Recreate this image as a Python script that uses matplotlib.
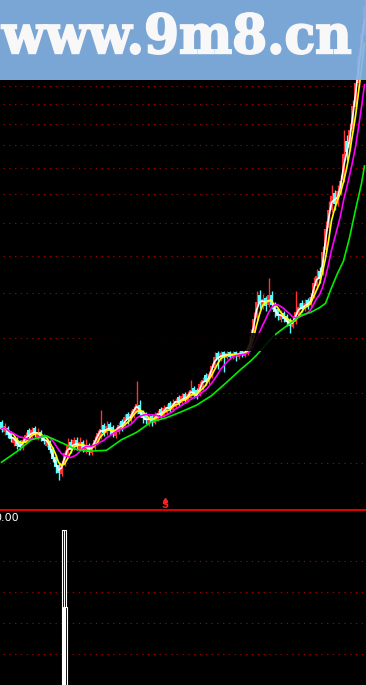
import numpy as np
import pandas as pd
import matplotlib
matplotlib.use('Agg')
import matplotlib.pyplot as plt
from matplotlib.patches import Rectangle, PathPatch
from matplotlib.textpath import TextPath
from matplotlib.font_manager import FontProperties
from matplotlib.transforms import Affine2D

plt.rcParams['font.family'] = ['DejaVu Sans']

# daily candles (price)
opens = [3.55, 3.40, 3.46, 3.40, 3.25, 3.31, 3.28, 3.19, 3.26, 3.43,
         3.34, 3.46, 3.32, 3.41, 3.36, 3.22, 3.28, 3.18, 3.08, 2.98,
         2.87, 2.98, 3.08, 3.27, 3.19, 3.30, 3.17, 3.27, 3.14, 3.23,
         3.12, 3.19, 3.27, 3.34, 3.50, 3.39, 3.52, 3.47, 3.35, 3.40,
         3.56, 3.50, 3.67, 3.56, 3.63, 3.69, 3.80, 3.70, 3.66, 3.52,
         3.64, 3.54, 3.58, 3.74, 3.64, 3.68, 3.83, 3.73, 3.77, 3.93,
         3.83, 3.98, 3.87, 3.92, 4.07, 4.05, 3.97, 4.08, 4.29, 4.18,
         4.28, 4.43, 4.71, 4.60, 4.72, 4.61, 4.72, 4.61, 4.73, 4.62,
         4.74, 4.65, 4.70, 4.80, 5.08, 5.42, 5.97, 5.68, 5.88, 5.72,
         5.95, 5.74, 5.62, 5.38, 5.54, 5.48, 5.38, 5.24, 5.34, 5.50,
         5.78, 5.62, 5.84, 5.72, 5.92, 6.18, 6.58, 6.52, 7.15, 7.85,
         8.45, 9.05, 8.65, 9.05, 9.55, 11.20, 10.85, 11.75, 12.85, 14.15,
         15.75, 17.35]
closes = [3.45, 3.49, 3.36, 3.31, 3.33, 3.22, 3.20, 3.29, 3.36, 3.34,
          3.43, 3.37, 3.41, 3.32, 3.28, 3.30, 3.16, 3.05, 2.95, 2.88,
          3.00, 3.12, 3.21, 3.17, 3.29, 3.20, 3.27, 3.18, 3.23, 3.14,
          3.22, 3.30, 3.39, 3.45, 3.39, 3.49, 3.42, 3.38, 3.44, 3.50,
          3.47, 3.62, 3.57, 3.67, 3.74, 3.82, 3.66, 3.60, 3.57, 3.61,
          3.55, 3.64, 3.68, 3.65, 3.75, 3.77, 3.74, 3.84, 3.87, 3.83,
          3.94, 3.88, 3.98, 4.04, 3.96, 3.95, 4.14, 4.21, 4.17, 4.31,
          4.46, 4.62, 4.58, 4.70, 4.62, 4.71, 4.63, 4.71, 4.64, 4.71,
          4.67, 4.74, 4.80, 5.05, 5.40, 5.80, 5.78, 5.86, 5.70, 5.95,
          5.72, 5.55, 5.46, 5.52, 5.40, 5.34, 5.25, 5.38, 5.55, 5.68,
          5.62, 5.78, 5.70, 5.92, 6.25, 6.44, 6.36, 7.10, 7.80, 8.45,
          8.95, 8.65, 9.10, 9.50, 10.60, 10.70, 11.70, 12.90, 14.20, 15.80,
          17.40, 19.30]
highs = [3.58, 3.54, 3.49, 3.42, 3.37, 3.34, 3.30, 3.33, 3.41, 3.46,
         3.48, 3.49, 3.46, 3.44, 3.38, 3.34, 3.30, 3.20, 3.10, 3.01,
         3.04, 3.16, 3.32, 3.31, 3.33, 3.33, 3.34, 3.30, 3.31, 3.26,
         3.26, 3.35, 3.43, 3.72, 3.54, 3.56, 3.55, 3.50, 3.48, 3.55,
         3.59, 3.67, 3.70, 3.72, 3.79, 4.19, 3.88, 3.73, 3.69, 3.66,
         3.67, 3.69, 3.73, 3.77, 3.80, 3.82, 3.86, 3.89, 3.92, 3.96,
         3.99, 4.01, 4.03, 4.21, 4.11, 4.08, 4.19, 4.27, 4.33, 4.37,
         4.52, 4.72, 4.74, 4.74, 4.74, 4.75, 4.75, 4.75, 4.75, 4.75,
         4.76, 4.78, 4.86, 5.18, 5.55, 6.05, 6.08, 5.98, 5.94, 6.38,
         6.05, 5.80, 5.66, 5.60, 5.58, 5.52, 5.42, 5.44, 6.05, 5.78,
         5.84, 5.86, 5.88, 6.02, 6.42, 6.62, 6.68, 7.28, 8.05, 8.75,
         9.35, 9.15, 9.35, 9.75, 11.70, 11.45, 12.05, 13.25, 14.65, 16.35,
         18.05, 20.50]
lows = [3.40, 3.37, 3.32, 3.27, 3.22, 3.18, 3.16, 3.17, 3.24, 3.30,
        3.31, 3.33, 3.30, 3.28, 3.24, 3.20, 3.12, 3.01, 2.88, 2.80,
        2.84, 2.96, 3.06, 3.13, 3.16, 3.16, 3.15, 3.14, 3.12, 3.10,
        3.10, 3.17, 3.25, 3.31, 3.35, 3.36, 3.37, 3.33, 3.32, 3.38,
        3.42, 3.47, 3.52, 3.53, 3.60, 3.66, 3.62, 3.54, 3.52, 3.49,
        3.49, 3.52, 3.56, 3.61, 3.62, 3.66, 3.70, 3.71, 3.75, 3.79,
        3.80, 3.84, 3.85, 3.90, 3.92, 3.90, 3.94, 4.05, 4.12, 4.15,
        4.25, 4.40, 4.40, 4.56, 4.35, 4.58, 4.58, 4.58, 4.56, 4.59,
        4.62, 4.62, 4.67, 4.76, 5.02, 5.38, 5.62, 5.62, 5.58, 5.68,
        5.62, 5.45, 5.38, 5.34, 5.33, 5.26, 5.10, 5.20, 5.30, 5.46,
        5.56, 5.58, 5.64, 5.68, 5.88, 6.12, 6.26, 6.48, 7.08, 7.78,
        8.38, 8.45, 8.58, 8.98, 9.45, 10.35, 10.75, 11.65, 12.75, 13.95,
        15.55, 17.15]

# long moving average (green)
green_idx = [0, 5, 10, 15, 20, 25, 30, 35, 40, 45, 50, 55, 60, 65, 70, 75,
             80, 83, 85, 88, 91, 95, 100, 103, 106, 108, 110, 112, 114, 116,
             118, 120, 121]
green_val = [3.01, 3.14, 3.30, 3.35, 3.26, 3.17, 3.15, 3.16, 3.30, 3.40,
             3.55, 3.61, 3.70, 3.80, 3.95, 4.17, 4.41, 4.55, 4.66, 4.86,
             5.06, 5.25, 5.49, 5.55, 5.66, 5.76, 6.14, 6.51, 6.85, 7.53,
             8.44, 9.40, 10.1]

grid_prices = [3, 4, 5, 6, 7, 8, 9, 10, 11, 12, 13, 14, 15, 16, 17, 18, 19]

# lower panel signal
sig_pos = [20.83, 21.17]
sig_val = [5.0, 2.52]
lower_grid = [1, 2, 3, 4]

W, H = 366, 685
fig = plt.figure(figsize=(W / 100, H / 100), dpi=100, facecolor='black')

# main price panel
ax = fig.add_axes([0, 175 / H, 1, 510 / H])
ax.set_facecolor('black')
ax.set_yscale('log')
ax.set_xlim(-0.5, len(closes) - 0.5)
ax.set_ylim(2.476, 19.9)
ax.axis('off')

for p in grid_prices:
    ax.axhline(p, xmin=3 / W, color='#a00000', lw=0.8, ls=(0, (1.2, 4)), zorder=1)

idx = np.arange(len(closes))
o = np.array(opens)
c = np.array(closes)
up = c >= o
cols = np.where(up, '#ff3333', '#55ffff')
ax.vlines(idx, lows, highs, colors=cols, lw=1.0, zorder=2)
ax.bar(idx, np.abs(c - o), bottom=np.minimum(o, c), width=0.7, color=cols,
       linewidth=0, zorder=3)

s = pd.Series(closes)
ax.plot(idx, s.rolling(2, min_periods=1).mean(), color='white', lw=1.2, zorder=5)
ax.plot(idx, s.rolling(4, min_periods=1).mean(), color='#ffff00', lw=1.2, zorder=5)
ax.plot(idx, s.rolling(8, min_periods=1).mean(), color='#ff00ff', lw=1.2, zorder=5)
ax.plot(green_idx, green_val, color='#00ee00', lw=1.2, zorder=5)

# dark label box over the middle
ax.add_patch(Rectangle((30.2, 4.74), 61.0, 0.36, facecolor='black',
                       edgecolor='none', alpha=0.88, zorder=6))

# signal mark
ax.plot([54.5], [0.02], marker='^', ms=3, color='#ff2020',
        transform=ax.get_xaxis_transform(), clip_on=False, zorder=7)
ax.text(54.5, 0.0, 'S', color='#ff2020', fontsize=7, fontweight='bold',
        ha='center', va='bottom', transform=ax.get_xaxis_transform(), zorder=7)

# lower indicator panel
ax2 = fig.add_axes([0, 0, 1, 174 / H])
ax2.set_facecolor('black')
ax2.set_xlim(-0.5, len(closes) - 0.5)
ax2.set_ylim(0, 5.61)
ax2.axis('off')
for g in lower_grid:
    ax2.axhline(g, xmin=3 / W, color='#a00000', lw=0.8, ls=(0, (1.2, 4)), zorder=1)
for xp, v in zip(sig_pos, sig_val):
    ax2.bar(xp, v, width=1.33, facecolor='black', edgecolor='white', lw=0.8, zorder=3)
    ax2.vlines(xp, 0, v, color='white', lw=0.8, zorder=4)
fig.text(-6 / W, 1 - 513 / H, '0.00', color='white', fontsize=8, ha='left', va='top')

# red divider
fig.add_artist(plt.Line2D([0, 1], [175 / H, 175 / H], color='#dd0000', lw=1.5))

# banner on top
fig.add_artist(Rectangle((0, 1 - 80 / H), 1, 80 / H, transform=fig.transFigure,
                         facecolor='#84b4e8', edgecolor='none', alpha=0.93, zorder=10))
tp = TextPath((0, 0), 'www.9m8.cn', size=1,
              prop=FontProperties(family='DejaVu Serif', weight='bold'))
ext = tp.get_extents()
tr = (Affine2D().translate(-ext.x0, -ext.y0)
      .scale((349 / W) / ext.width, (41 / H) / ext.height)
      .translate(1.5 / W, (H - 54) / H) + fig.transFigure)
fig.add_artist(PathPatch(tp, transform=tr, facecolor='#f8f8f8', edgecolor='#f8f8f8',
                         lw=1.4, zorder=11))

fig.savefig('out.png', dpi=100, facecolor='black')
